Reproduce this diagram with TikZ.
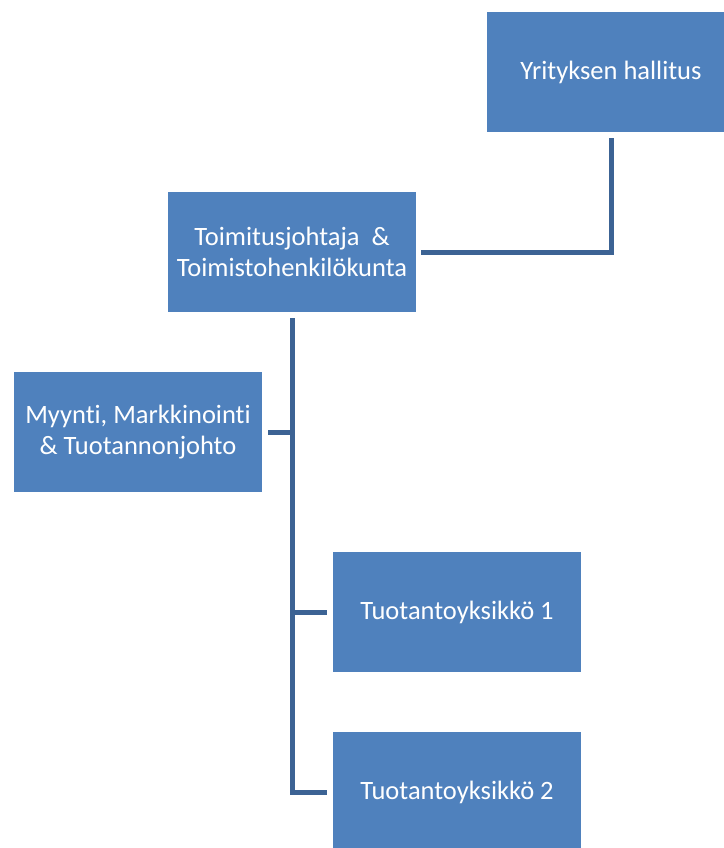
\documentclass[tikz,border=0pt]{standalone}
\usepackage{fontspec}
\setmainfont[Ligatures=NoCommon]{Carlito}
\usetikzlibrary{positioning}

\begin{document}
\begin{tikzpicture}[x=1pt,y=-1pt]
\definecolor{org_fill}{RGB}{79,129,189} %#4F81BD
\definecolor{org_line}{RGB}{60,99,148}  %#3C6394

\tikzset{
  unit/.style={fill=org_fill,text=white,minimum width=248pt,minimum height=120pt,
    inner sep=0pt,align=center,font=\fontsize{26.5}{31}\selectfont},
  link/.style={draw=org_line,line width=5pt}
}

\def\colx{292}
\def\rowy{180}

\useasboundingbox (0,0) rectangle (723,848);

\node [unit] (hall) at (611,72) {Yrityksen hallitus};
\node [unit] (toim) at (\colx,{72+\rowy}) {Toimitusjohtaja~ \&\\Toimistohenkilökunta};
\node [unit] (myy)  at (138,{72+2*\rowy}) {Myynti, Markkinointi\\\& Tuotannonjohto};
\node [unit] (ty1)  at (457,{72+3*\rowy}) {Tuotantoyksikkö 1};
\node [unit] (ty2)  at (457,{72+4*\rowy}) {Tuotantoyksikkö 2};

\draw [link,shorten <=6pt,shorten >=5pt] (hall.south) |- (toim.east);
\draw [link,shorten <=6pt,shorten >=6pt] (toim.south) |- (ty2.west);
\draw [link,shorten <=6pt] (myy.east) -- (myy.east -| toim.south);
\draw [link,shorten >=6pt] (ty1.west -| toim.south) -- (ty1.west);

\end{tikzpicture}
\end{document}
